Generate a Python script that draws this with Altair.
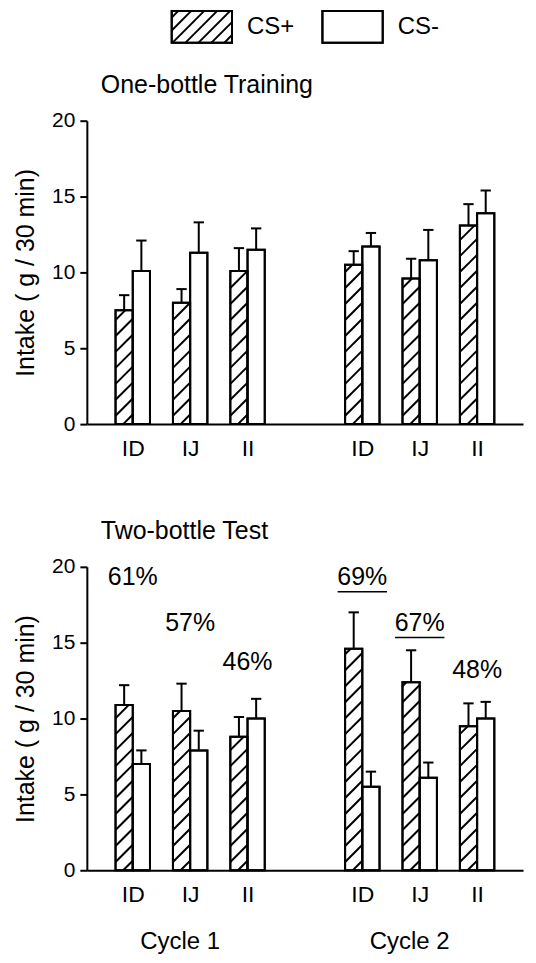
import altair as alt
import pandas as pd
import numpy as np

# ---------------- data ----------------
groups = ["ID", "IJ", "II"]
cycles = ["Cycle 1", "Cycle 2"]
conditions = ["CS+", "CS-"]

# One-bottle training (order: Cycle1 ID, IJ, II, Cycle2 ID, IJ, II)
train_plus = [7.5, 8.0, 10.1, 10.5, 9.6, 13.1]
train_plus_sem = [1.0, 0.9, 1.5, 0.9, 1.3, 1.4]
train_minus = [10.1, 11.3, 11.5, 11.7, 10.8, 13.9]
train_minus_sem = [2.0, 2.0, 1.4, 0.9, 2.0, 1.5]

# Two-bottle test
test_plus = [10.9, 10.5, 8.8, 14.6, 12.4, 9.5]
test_plus_sem = [1.3, 1.8, 1.3, 2.4, 2.1, 1.5]
test_minus = [7.0, 7.9, 10.0, 5.5, 6.1, 10.0]
test_minus_sem = [0.9, 1.3, 1.3, 1.0, 1.0, 1.1]

# CS+ preference labels of the test
pref_labels = ["61%", "57%", "46%", "69%", "67%", "48%"]
pref_label_y = [19.3, 16.3, 13.7, 19.3, 16.3, 13.2]
pref_underlined = [False, False, False, True, True, False]

# ---------------- layout constants ----------------
W, H = 437, 304
XMIN, XMAX = -0.8, 6.8
YMAX = 20
BAR = 0.3          # bar width in slot units
CAP = 0.09         # half width of error caps
PXX = W / (XMAX - XMIN)
PXY = H / YMAX
FONT = "Liberation Sans"

slots = [c * (len(groups) + 1) + g for c in range(len(cycles)) for g in range(len(groups))]
slot_names = {}
for c in range(len(cycles)):
    for g, name in enumerate(groups):
        slot_names[c * (len(groups) + 1) + g] = name
label_expr = "{" + ",".join(f"'{k}':'{v}'" for k, v in slot_names.items()) + "}[datum.value + '']"


def hatch_segments(x0, w_units, h_units, pxx, pxy, spacing):
    w = w_units * pxx
    h = h_units * pxy
    segs = []
    for b in np.arange(-w + spacing * 0.6, h, spacing):
        xa = max(0.0, -b)
        xb = min(w, h - b)
        if xb - xa > 0.8:
            segs.append(dict(hx=x0 + xa / pxx, hy=(xa + b) / pxy,
                             hx2=x0 + xb / pxx, hy2=(xb + b) / pxy))
    return segs


xscale = alt.Scale(domain=[XMIN, XMAX], nice=False, zero=False)
yscale = alt.Scale(domain=[0, YMAX], nice=False)
xaxis = alt.Axis(values=slots, labelExpr=label_expr, ticks=False, tickSize=0, grid=False,
                 title=None, domainWidth=2, domainColor="black", labelFontSize=23,
                 labelColor="black", labelPadding=13, labelFlush=False, labelFont=FONT)
yaxis = alt.Axis(values=[0, 5, 10, 15, 20], tickSize=7, tickWidth=2, tickColor="black",
                 domainWidth=2, domainColor="black", grid=False, labelFontSize=21,
                 labelColor="black", labelPadding=5, labelFlush=False, labelFont=FONT,
                 title="Intake ( g / 30 min)", titleFontSize=25, titleFontWeight="normal",
                 titleColor="black", titlePadding=13, titleFont=FONT)


def panel(plus, plus_sem, minus, minus_sem, title, annotate=False, cycle_axis=False):
    rows = []
    hatch = []
    for i, s in enumerate(slots):
        for cond, vals, sems, x0 in (("CS+", plus, plus_sem, s - BAR), ("CS-", minus, minus_sem, s)):
            v = vals[i]
            top = v + sems[i]
            xc = x0 + BAR / 2
            rows.append(dict(slot=s, cond=cond, x0=x0, x1=x0 + BAR, xc=xc,
                             cl=xc - CAP, cr=xc + CAP, v=v, top=top))
            if cond == "CS+":
                hatch += hatch_segments(x0, BAR, v, PXX, PXY, 16)
    df = pd.DataFrame(rows)
    hdf = pd.DataFrame(hatch)
    base = alt.Chart(df)

    X = lambda f: alt.X(f, type="quantitative", scale=xscale, axis=xaxis)
    Y = lambda f: alt.Y(f, type="quantitative", scale=yscale, axis=yaxis)

    fill = base.mark_rect(fill="white", stroke="black", strokeWidth=2).encode(
        x=X("x0"), x2="x1", y=Y("v"), y2=alt.datum(0))
    hl = alt.Chart(hdf).mark_rule(color="black", strokeWidth=2).encode(
        x=X("hx"), x2="hx2", y=Y("hy"), y2="hy2")
    outline = base.mark_rect(filled=False, stroke="black", strokeWidth=2).encode(
        x=X("x0"), x2="x1", y=Y("v"), y2=alt.datum(0))
    err = base.mark_rule(color="black", strokeWidth=2).encode(
        x=X("xc"), y=Y("v"), y2="top")
    cap = base.mark_rule(color="black", strokeWidth=2).encode(
        x=X("cl"), x2="cr", y=Y("top"))
    layers = [fill, hl, outline, err, cap]

    if annotate:
        adf = pd.DataFrame(dict(slot=slots, label=pref_labels, ly=pref_label_y,
                                ul=pref_underlined))
        adf["uy"] = adf["ly"] - 0.95
        adf["ux0"] = adf["slot"] - 0.43
        adf["ux1"] = adf["slot"] + 0.43
        txt = alt.Chart(adf).mark_text(fontSize=25, font=FONT, color="black",
                                       baseline="middle", align="center").encode(
            x=X("slot"), y=Y("ly"), text="label")
        ul = alt.Chart(adf[adf["ul"]]).mark_rule(color="black", strokeWidth=1.5).encode(
            x=X("ux0"), x2="ux1", y=Y("uy"))
        layers += [txt, ul]
    if cycle_axis:
        cdf = pd.DataFrame(dict(cycle=cycles,
                                slot=[slots[c * len(groups) + 1] for c in range(len(cycles))]))
        ct = alt.Chart(cdf).mark_text(fontSize=24, font=FONT, color="black",
                                      baseline="middle", align="center", dx=-10).encode(
            x=X("slot"), y=alt.value(H + 72), text="cycle")
        layers.append(ct)

    return alt.layer(*layers).properties(
        width=W, height=H,
        title=alt.TitleParams(title, anchor="start", frame="group", fontSize=25,
                              fontWeight="normal", font=FONT, color="black", dx=14,
                              offset=12))


# ---------------- legend ----------------
LW, LH = 381, 32
LXMIN, LXMAX = -0.563, 1.96
LBOX = 0.4
lpxx = LW / (LXMAX - LXMIN)
lpxy = LH / 1.0
leg = pd.DataFrame(dict(cond=conditions, k=list(range(len(conditions)))))
leg["bx0"] = leg["k"]
leg["bx1"] = leg["k"] + LBOX
leg["tx"] = leg["k"] + 0.5
leg_hatch = pd.DataFrame(hatch_segments(0, LBOX, 1.0, lpxx, lpxy, 13))
lx = alt.Scale(domain=[LXMIN, LXMAX], nice=False, zero=False)
ly = alt.Scale(domain=[0, 1], nice=False)
lbox = alt.Chart(leg).mark_rect(fill="white", stroke="black", strokeWidth=2).encode(
    x=alt.X("bx0:Q", scale=lx, axis=None), x2="bx1",
    y=alt.Y("one:Q", scale=ly, axis=None), y2=alt.datum(0)).transform_calculate(one="1")
lh = alt.Chart(leg_hatch).mark_rule(color="black", strokeWidth=2).encode(
    x=alt.X("hx:Q", scale=lx, axis=None), x2="hx2",
    y=alt.Y("hy:Q", scale=ly, axis=None), y2="hy2")
lout = alt.Chart(leg).mark_rect(filled=False, stroke="black", strokeWidth=2).encode(
    x=alt.X("bx0:Q", scale=lx, axis=None), x2="bx1",
    y=alt.Y("one:Q", scale=ly, axis=None), y2=alt.datum(0)).transform_calculate(one="1")
ltxt = alt.Chart(leg).mark_text(fontSize=24, font=FONT, color="black", align="left",
                                baseline="middle").encode(
    x=alt.X("tx:Q", scale=lx, axis=None), y=alt.datum(0.5), text="cond")
legend = alt.layer(lbox, lh, lout, ltxt).properties(width=LW, height=LH)

top = panel(train_plus, train_plus_sem, train_minus, train_minus_sem, "One-bottle Training")
bottom = panel(test_plus, test_plus_sem, test_minus, test_minus_sem, "Two-bottle Test",
               annotate=True, cycle_axis=True)

panels = alt.vconcat(top, bottom, spacing=59).resolve_scale(x="independent", y="independent")
chart = alt.vconcat(legend, panels, spacing=29).configure_view(stroke=None).properties(
    padding={"left": 5, "top": 1, "right": 5, "bottom": 5})

chart.save("out.html", embed_options={"renderer": "svg", "actions": False})
